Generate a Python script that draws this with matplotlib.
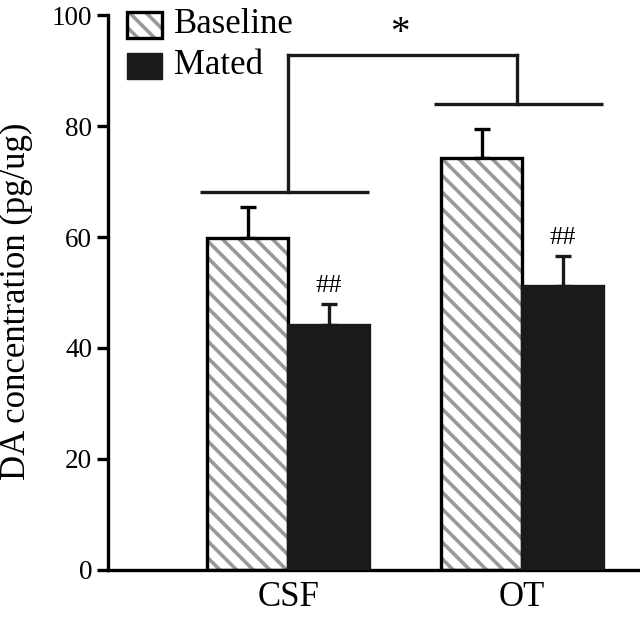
import numpy as np
import matplotlib.pyplot as plt
from matplotlib.patches import Rectangle

# data
regions = ['CSF', 'OT']
baseline = [59.8, 74.2]
baseline_err = [5.6, 5.3]
mated = [44.1, 51.2]
mated_err = [3.8, 5.4]
group_line = [68.1, 84.0]   # horizontal bars above each group
top_line = 92.8             # bracket joining the two groups

plt.rcParams['font.family'] = ['Liberation Serif', 'DejaVu Serif']
plt.rcParams['hatch.linewidth'] = 2.6

fig = plt.figure(figsize=(6.4, 6.18), dpi=100)
ax = fig.add_axes([0.169, 0.0777, 0.831, 0.898])

x = np.arange(len(regions))
w = 0.346
xb = x - w / 2
xm = x + w / 2

# hatched baseline bars: gray stripes, then black outline on top
ax.bar(xb, baseline, w, color='white', edgecolor='#999999', hatch='\\\\', linewidth=0, zorder=2)
ax.bar(xb, baseline, w, color='none', edgecolor='black', linewidth=2.4, zorder=3)
ax.errorbar(xb, baseline, yerr=[np.zeros(2), baseline_err], fmt='none', ecolor='black',
            elinewidth=2.4, capsize=6, capthick=2.4, zorder=1)

ax.bar(xm, mated, w, color='#1a1a1a', edgecolor='#1a1a1a', linewidth=2.4, zorder=3)
ax.errorbar(xm, mated, yerr=[np.zeros(2), mated_err], fmt='none', ecolor='#1a1a1a',
            elinewidth=2.4, capsize=6, capthick=2.4, zorder=1)

for xi, m, e in zip(xm, mated, mated_err):
    ax.text(xi, m + e + 1.2, '##', ha='center', va='bottom', fontsize=19)

# significance brackets
lw = 2.4
for xi, gy in zip(x, group_line):
    ax.plot([xi - w - 0.03, xi + w], [gy, gy], color='#1a1a1a', lw=lw, solid_capstyle='butt')
ax.plot([x[0], x[0]], [group_line[0], top_line], color='#1a1a1a', lw=lw)
ax.plot([x[1] - 0.02, x[1] - 0.02], [group_line[1], top_line], color='#1a1a1a', lw=lw)
ax.plot([x[0], x[1] - 0.02], [top_line, top_line], color='#1a1a1a', lw=lw)
ax.text(0.479, 96.6, '*', ha='center', va='center', fontsize=28)

# legend drawn by hand
lx, lh, lwid = 0.036, 0.047, 0.066
ax.add_patch(Rectangle((lx, 0.958), lwid, lh, transform=ax.transAxes, facecolor='white',
                       edgecolor='#999999', hatch='\\\\', linewidth=0, clip_on=False))
ax.add_patch(Rectangle((lx, 0.958), lwid, lh, transform=ax.transAxes, facecolor='none',
                       edgecolor='black', linewidth=2.4, clip_on=False))
ax.add_patch(Rectangle((lx, 0.884), lwid, lh, transform=ax.transAxes, facecolor='#1a1a1a',
                       edgecolor='#1a1a1a', linewidth=1, clip_on=False))
ax.text(0.124, 0.983, 'Baseline', transform=ax.transAxes, va='center', fontsize=25)
ax.text(0.124, 0.909, 'Mated', transform=ax.transAxes, va='center', fontsize=25)

ax.set_xlim(-0.769, 1.504)
ax.set_ylim(0, 100)
ax.set_yticks([0, 20, 40, 60, 80, 100])
ax.set_xticks(x)
ax.set_xticklabels(regions)
ax.tick_params(axis='x', length=0, labelsize=25, pad=8)
ax.tick_params(axis='y', length=8, width=2.4, labelsize=19.5, direction='out')
ax.set_ylabel('DA concentration (pg/ug)', fontsize=25)
ax.yaxis.set_label_coords(-0.142, 0.485)
for s in ['top', 'right']:
    ax.spines[s].set_visible(False)
for s in ['left', 'bottom']:
    ax.spines[s].set_linewidth(2.4)

fig.savefig('out.png', dpi=100)
